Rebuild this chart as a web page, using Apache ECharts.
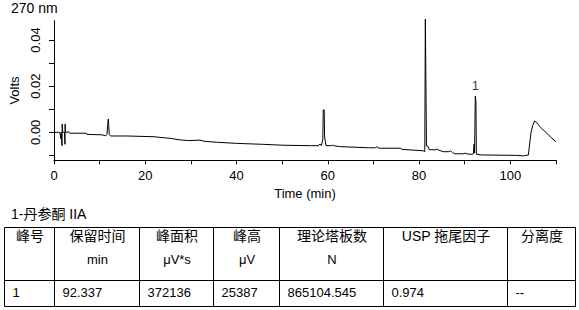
<!DOCTYPE html>
<html>
<head>
<meta charset="utf-8">
<script src="https://cdn.jsdelivr.net/npm/echarts@6/dist/echarts.min.js"></script>
<style>
html,body{margin:0;padding:0;background:#fff;}
#chart{width:579px;height:310px;}
</style>
</head>
<body>
<div id="chart"></div>
<script>
// ---- Data ----
var timeMin = [
  0, 1.3, 1.5, 1.6, 1.75, 1.8, 1.9, 2.3, 2.4, 2.45, 2.5, 3.0, 3.1, 3.4, 7.1, 7.2,
  10.5, 11.3, 11.6, 11.8, 11.9, 12.0, 12.1, 12.4, 16.0, 21.7, 25.4, 27.6, 29.5, 32.0,
  33.0, 35.6, 40.0, 45.7, 50.2, 56.4, 57.9, 58.3, 58.6, 58.9, 59.0, 59.2, 59.3, 59.6,
  60.8, 61.0, 61.3, 62.6, 68.9, 70.5, 70.7, 71.0, 71.4, 76.0, 76.2, 80.9, 81.25, 81.37,
  81.5, 81.62, 81.9, 82.2, 83.5, 83.9, 84.3, 85.3, 86.6, 86.9, 87.3, 87.8, 89.8, 90.1,
  90.5, 91.6, 91.9, 92.05, 92.15, 92.32, 92.45, 92.55, 93.5, 101.4, 101.5, 102.9, 103.0,
  103.95, 104.5, 104.9, 105.3, 105.8, 106.5, 107.2, 108.0, 109.0, 110.0
];
var volts = [
  0.0000, 0.0000, -0.0028, 0.0000, -0.0058, 0.0036, 0.0000, 0.0000, -0.0052, 0.0036, 0.0000, 0.0000, 0.0004, -0.0004, -0.0004, -0.0009,
  -0.0011, -0.0015, -0.0010, 0.0040, 0.0058, 0.0030, -0.0010, -0.0016, -0.0016, -0.0019, -0.0026, -0.0033, -0.0036, -0.0034,
  -0.0039, -0.0043, -0.0048, -0.0052, -0.0056, -0.0058, -0.0058, -0.0051, -0.0058, -0.0030, 0.0097, 0.0097, -0.0020, -0.0058,
  -0.0058, -0.0055, -0.0058, -0.0062, -0.0067, -0.0067, -0.0062, -0.0067, -0.0069, -0.0069, -0.0074, -0.0080, -0.0084, 0.0490,
  0.0212, -0.0059, -0.0059, -0.0075, -0.0076, -0.0073, -0.0077, -0.0084, -0.0084, -0.0080, -0.0088, -0.0093, -0.0093, -0.0090,
  -0.0094, -0.0095, -0.0093, -0.0051, -0.0090, 0.0157, 0.0132, -0.0095, -0.0098, -0.0100, -0.0102, -0.0102, -0.0100,
  -0.0098, -0.0004, 0.0030, 0.0049, 0.0041, 0.0024, 0.0010, -0.0004, -0.0024, -0.0041
];
var peakLabels = ['1'];
var peakTimes = [92.32];
var peakVolts = [0.0157];

var xTickValues = [0, 10, 20, 30, 40, 50, 60, 70, 80, 90, 100, 110];
var xLabelValues = [0, 20, 40, 60, 80, 100];
var yTickValues = [-0.01, 0, 0.01, 0.02, 0.03, 0.04];
var yLabelValues = [0, 0.02, 0.04];

var chartTitle = '270 nm';
var tableTitle = '1-丹参酮 IIA';
var headerLine1 = ['峰号', '保留时间', '峰面积', '峰高', '理论塔板数', 'USP 拖尾因子', '分离度'];
var headerLine2 = ['', 'min', 'μV*s', 'μV', 'N', '', ''];
var rowValues = [['1', '92.337', '372136', '25387', '865104.545', '0.974', '--']];

// ---- Layout ----
var FONT = "'Liberation Sans', Arial, 'Noto Sans CJK SC', sans-serif";
var colEdges = [4, 54, 139, 213, 279, 383, 507, 575];
var rowEdges = [227, 280, 306];

var seriesData = timeMin.map(function (t, i) { return [t, volts[i]]; });
var labelData = peakTimes.map(function (t, i) { return { value: [t, peakVolts[i]], name: peakLabels[i] }; });

// table graphics
var g = [];
g.push({ type: 'rect', shape: { x: colEdges[0] + 0.5, y: rowEdges[0] + 0.5, width: colEdges[colEdges.length - 1] - colEdges[0], height: rowEdges[rowEdges.length - 1] - rowEdges[0] },
  style: { fill: 'none', stroke: '#000', lineWidth: 1 }, silent: true });
for (var c = 1; c < colEdges.length - 1; c++) {
  g.push({ type: 'line', shape: { x1: colEdges[c] + 0.5, y1: rowEdges[0] + 0.5, x2: colEdges[c] + 0.5, y2: rowEdges[rowEdges.length - 1] + 0.5 },
    style: { stroke: '#000', lineWidth: 1 }, silent: true });
}
for (var r = 1; r < rowEdges.length - 1; r++) {
  g.push({ type: 'line', shape: { x1: colEdges[0] + 0.5, y1: rowEdges[r] + 0.5, x2: colEdges[colEdges.length - 1] + 0.5, y2: rowEdges[r] + 0.5 },
    style: { stroke: '#000', lineWidth: 1 }, silent: true });
}
for (var c2 = 0; c2 < headerLine1.length; c2++) {
  var cx = (colEdges[c2] + colEdges[c2 + 1]) / 2 + 1;
  g.push({ type: 'text', x: cx, y: 236, style: { text: headerLine1[c2], fill: '#000', font: '14px ' + FONT, textAlign: 'center', textVerticalAlign: 'middle' }, silent: true });
  if (headerLine2[c2]) {
    g.push({ type: 'text', x: cx, y: 259, style: { text: headerLine2[c2], fill: '#000', font: '13px ' + FONT, textAlign: 'center', textVerticalAlign: 'middle' }, silent: true });
  }
  for (var rr = 0; rr < rowValues.length; rr++) {
    g.push({ type: 'text', x: colEdges[c2] + 8.5, y: 292, style: { text: rowValues[rr][c2], fill: '#000', font: '13px ' + FONT, textAlign: 'left', textVerticalAlign: 'middle' }, silent: true });
  }
}
g.push({ type: 'text', x: 11, y: 214, style: { text: tableTitle, fill: '#000', font: '14px ' + FONT, textAlign: 'left', textVerticalAlign: 'middle' }, silent: true });
g.push({ type: 'text', x: 11, y: 8, style: { text: chartTitle, fill: '#000', font: '14px ' + FONT, textAlign: 'left', textVerticalAlign: 'middle' }, silent: true });

var chart = echarts.init(document.getElementById('chart'), null, { renderer: 'svg' });
chart.setOption({
  animation: false,
  backgroundColor: '#fff',
  textStyle: { fontFamily: FONT },
  grid: { left: 54, right: 23, top: 20.7, bottom: 149.7, containLabel: false },
  xAxis: {
    type: 'value', min: 0, max: 110, interval: 10,
    name: 'Time (min)', nameLocation: 'middle', nameGap: 27,
    nameTextStyle: { color: '#000', fontSize: 13, fontFamily: FONT },
    axisLine: { show: true, onZero: false, lineStyle: { color: '#000', width: 1 } },
    axisTick: { show: true, length: 4, customValues: xTickValues, lineStyle: { color: '#000' } },
    axisLabel: { customValues: xLabelValues, color: '#000', fontSize: 13, margin: 9, fontFamily: FONT },
    splitLine: { show: false }
  },
  yAxis: {
    type: 'value', min: -0.01213, max: 0.04835,
    name: 'Volts', nameLocation: 'middle', nameGap: 28, nameRotate: 90,
    nameTextStyle: { color: '#000', fontSize: 13, fontFamily: FONT },
    axisLine: { show: true, lineStyle: { color: '#000', width: 1 } },
    axisTick: { show: true, length: 5, customValues: yTickValues, lineStyle: { color: '#000' } },
    axisLabel: { customValues: yLabelValues, rotate: 90, color: '#000', fontSize: 13, margin: 12, fontFamily: FONT,
      formatter: function (v) { return v.toFixed(2); } },
    splitLine: { show: false }
  },
  series: [
    { type: 'line', data: seriesData, symbol: 'none', showSymbol: false, clip: false,
      lineStyle: { color: '#000', width: 1 }, silent: true },
    { type: 'scatter', data: labelData, symbolSize: 0, silent: true, clip: false,
      label: { show: true, position: 'top', distance: 4, formatter: '{b}', color: '#000', fontSize: 13, fontFamily: FONT } }
  ],
  graphic: g
});
</script>
</body>
</html>
